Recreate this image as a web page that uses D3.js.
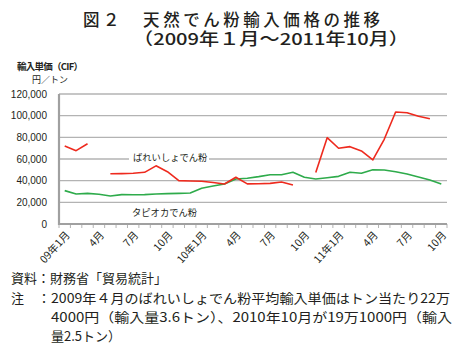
<!DOCTYPE html>
<html>
<head>
<meta charset="utf-8">
<script src="https://cdn.jsdelivr.net/npm/d3@7"></script>
<style>
  body { margin: 0; background: #fff; }
  svg { display: block; }
  text { fill: #231f20; }
</style>
</head>
<body>
<svg class="linechart" width="459" height="351"></svg>
<script>

// months from 2009/1 to 2011/10
let months = [
  "2009-01", "2009-02", "2009-03", "2009-04", "2009-05", "2009-06",
  "2009-07", "2009-08", "2009-09", "2009-10", "2009-11", "2009-12",
  "2010-01", "2010-02", "2010-03", "2010-04", "2010-05", "2010-06",
  "2010-07", "2010-08", "2010-09", "2010-10", "2010-11", "2010-12",
  "2011-01", "2011-02", "2011-03", "2011-04", "2011-05", "2011-06",
  "2011-07", "2011-08", "2011-09", "2011-10"
];

// only some months get a label on the x axis
let tickMonths = ["2009-01", "2009-04", "2009-07", "2009-10", "2010-01", "2010-04",
                  "2010-07", "2010-10", "2011-01", "2011-04", "2011-07", "2011-10"];
let tickLabels = ["09年1月", "4月", "7月", "10月", "10年1月", "4月",
                  "7月", "10月", "11年1月", "4月", "7月", "10月"];

let yTicks = [0, 20000, 40000, 60000, 80000, 100000, 120000];

// yen per ton, null = outlier month left out (see note)
let potato = [
  72000, 67700, 74100, null, 46400, 46500, 46800, 47700, 53700, 48300, 40000, 39700,
  39500, 38300, 36900, 43100, 37000, 37200, 37500, 38800, 36000, null, 47500, 79700,
  69900, 71400, 67400, 59100, 78200, 103400, 102700, 99400, 97200, null
];

let tapioca = [
  30800, 27700, 28300, 27400, 25800, 27100, 27000, 27100, 27700, 28000, 28300, 28600,
  33000, 35000, 36900, 41500, 42200, 43700, 45500, 45500, 47700, 43100, 41500, 42700,
  44000, 47700, 46800, 50100, 49800, 48300, 46100, 43400, 40600, 36900
];

let drawLineChart = function() {

  let svg = d3.select("body").select(".linechart");

  let jp = "'Noto Sans CJK JP', 'Noto Sans', sans-serif";
  let num = "'Liberation Sans', Arial, sans-serif";

  let margin = { top: 94, right: 12, bottom: 127, left: 59 };
  let width = 459, height = 351;
  let plotWidth = width - margin.left - margin.right;
  let plotHeight = height - margin.top - margin.bottom;

  let x = d3.scaleBand()
    .domain(months)
    .range([0, plotWidth])
    .padding(0);

  let y = d3.scaleLinear()
    .domain([0, 120000])
    .range([plotHeight, 0]);

  let plot = svg.append("g").attr("id", "plot")
    .attr("transform", translate(margin.left, margin.top));

  // grid lines
  plot.append("g").attr("id", "grid")
    .selectAll("line")
    .data(yTicks.filter(d => d > 0))
    .join("line")
      .attr("x1", 0)
      .attr("x2", plotWidth)
      .attr("y1", d => y(d))
      .attr("y2", d => y(d))
      .attr("stroke", "#b3b3b3")
      .attr("stroke-width", 1.3);

  // y axis, labels only
  let yAxis = d3.axisLeft(y)
    .tickValues(yTicks)
    .tickSize(0)
    .tickPadding(12)
    .tickFormat(d3.format(","));
  let yGroup = plot.append("g").attr("id", "y-axis").call(yAxis);
  yGroup.select(".domain").remove();
  yGroup.selectAll("text")
    .attr("font-family", num)
    .attr("font-size", 10)
    .attr("fill", "#231f20");

  // x axis, ticks on the band edges
  let edges = months.map(m => x(m)).concat([plotWidth]);
  let xGroup = plot.append("g").attr("id", "x-axis")
    .attr("transform", translate(0, plotHeight));
  xGroup.selectAll("line.tick")
    .data(edges)
    .join("line")
      .attr("class", "tick")
      .attr("x1", d => d)
      .attr("x2", d => d)
      .attr("y1", 0)
      .attr("y2", 4)
      .attr("stroke", "#b3b3b3")
      .attr("stroke-width", 1);

  xGroup.selectAll("text")
    .data(tickMonths)
    .join("text")
      .attr("transform", (d, i) => translate(x(d) + x.bandwidth() / 2 + 3, 9) + " rotate(-48)")
      .attr("text-anchor", "end")
      .attr("dy", "0.35em")
      .attr("font-family", jp)
      .attr("font-size", 10.5)
      .text((d, i) => tickLabels[i]);

  // axis lines drawn on top of the grid
  plot.append("line")
    .attr("x1", 0).attr("x2", plotWidth)
    .attr("y1", plotHeight).attr("y2", plotHeight)
    .attr("stroke", "#a0a0a0").attr("stroke-width", 2.2);
  plot.append("line")
    .attr("x1", 0).attr("x2", 0)
    .attr("y1", 0).attr("y2", plotHeight + 1)
    .attr("stroke", "#a0a0a0").attr("stroke-width", 2.2);

  let line = d3.line()
    .defined(d => d[1] !== null)
    .x(d => x(d[0]) + x.bandwidth() / 2)
    .y(d => y(d[1]));

  let series = [
    { key: "tapioca", values: months.map((m, i) => [m, tapioca[i]]), color: "#2eab4b" },
    { key: "potato", values: months.map((m, i) => [m, potato[i]]), color: "#ee2a1e" }
  ];

  plot.selectAll("path.series")
    .data(series)
    .join("path")
      .attr("class", "series")
      .attr("fill", "none")
      .attr("stroke", d => d.color)
      .attr("stroke-width", 1.6)
      .attr("stroke-linejoin", "round")
      .attr("d", d => line(d.values));

  // series labels, the potato one sits on a white box over the grid line
  plot.append("rect")
    .attr("x", 70).attr("y", 58)
    .attr("width", 80).attr("height", 12)
    .attr("fill", "#fff");
  plot.append("text")
    .attr("x", 74).attr("y", 64)
    .attr("dy", "0.35em")
    .attr("font-family", jp)
    .attr("font-size", 9.3)
    .text("ばれいしょでん粉");
  plot.append("text")
    .attr("x", 73).attr("y", 119)
    .attr("dy", "0.35em")
    .attr("font-family", jp)
    .attr("font-size", 9.3)
    .text("タピオカでん粉");

  // unit label
  svg.append("text")
    .attr("x", 50).attr("y", 67)
    .attr("dy", "0.35em")
    .attr("text-anchor", "middle")
    .attr("font-family", jp)
    .attr("font-size", 9.5)
    .attr("font-weight", "bold")
    .text("輸入単価（CIF）")
    .attr("textLength", 66);
  svg.append("text")
    .attr("x", 50).attr("y", 80)
    .attr("dy", "0.35em")
    .attr("text-anchor", "middle")
    .attr("font-family", jp)
    .attr("font-size", 9)
    .text("円／トン");

  // title, two lines in one text element
  let title = svg.append("text")
    .attr("font-family", jp)
    .attr("font-size", 16.5)
    .attr("font-weight", "500");
  title.append("tspan")
    .attr("x", 83).attr("y", 26)
    .attr("textLength", 297)
    .attr("lengthAdjust", "spacing")
    .text("図２　天然でん粉輸入価格の推移");
  title.append("tspan")
    .attr("x", 133).attr("y", 45)
    .attr("textLength", 276)
    .attr("lengthAdjust", "spacingAndGlyphs")
    .text("（2009年１月～2011年10月）");

  // source and note
  let foot = svg.append("g").attr("font-family", jp).attr("font-size", 13);
  foot.append("text").attr("x", 11).attr("y", 278).attr("dy", "0.35em")
    .text("資料：財務省「貿易統計」");
  foot.append("text").attr("x", 11).attr("y", 298).attr("dy", "0.35em").text("注");
  foot.append("text").attr("x", 37.5).attr("y", 298).attr("dy", "0.35em").text("：");
  foot.append("text").attr("x", 51).attr("y", 298).attr("dy", "0.35em")
    .attr("textLength", 399).attr("lengthAdjust", "spacingAndGlyphs")
    .text("2009年４月のばれいしょでん粉平均輸入単価はトン当たり22万");
  foot.append("text").attr("x", 51).attr("y", 317).attr("dy", "0.35em")
    .attr("textLength", 401).attr("lengthAdjust", "spacingAndGlyphs")
    .text("4000円（輸入量3.6トン）、2010年10月が19万1000円（輸入");
  foot.append("text").attr("x", 51).attr("y", 336).attr("dy", "0.35em")
    .text("量2.5トン）");
};

function translate(x, y) {
  return 'translate(' + x + ',' + y + ')';
}

drawLineChart();
</script>
</body>
</html>
